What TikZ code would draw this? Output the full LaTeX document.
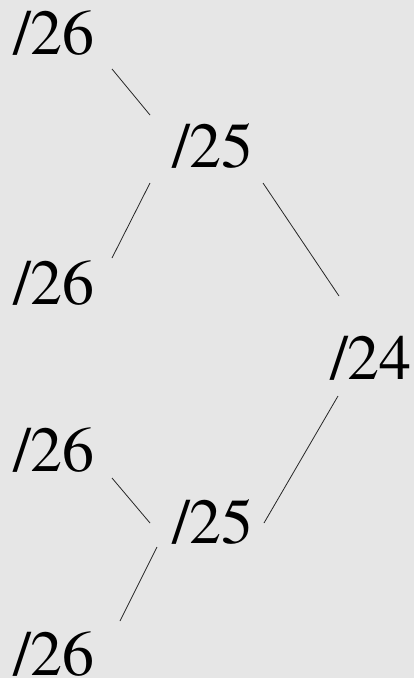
\documentclass[tikz,border=0pt]{standalone}
\usepackage{fontspec}
\newfontfamily\lblfont{TeX Gyre Termes}
\usepackage{xcolor}
\usetikzlibrary{positioning}

\definecolor{bggray}{RGB}{230,230,230}

\begin{document}
\begin{tikzpicture}[
  x=1pt,y=-1pt,
  lbl/.style={inner sep=0pt,anchor=base west,font=\lblfont\fontsize{64}{64}\selectfont},
  edge/.style={line width=0.8pt,draw=black!85}
]
\useasboundingbox (0,0) rectangle (414,678);
\fill[bggray] (0,0) rectangle (414,678);
% labels
\node[lbl] (t1) at (13,54) {/26};
\node[lbl] (m1) at (172,167) {/25};
\node[lbl] (t2) at (13,304) {/26};
\node[lbl] (n24) at (330,379) {/24};
\node[lbl] (t3) at (13,471) {/26};
\node[lbl] (m2) at (172,543) {/25};
\node[lbl] (t4) at (13,675) {/26};
% connectors
\draw[edge] ([shift={(99,15)}]t1.base west) -- ([shift={(-22,-52)}]m1.base west);
\draw[edge] ([shift={(-22,16)}]m1.base west) -- ([shift={(99,-46)}]t2.base west);
\draw[edge] ([shift={(91,16)}]m1.base west) -- ([shift={(9,-83)}]n24.base west);
\draw[edge] ([shift={(8,17)}]n24.base west) -- ([shift={(92,-20)}]m2.base west);
\draw[edge] ([shift={(99,7)}]t3.base west) -- ([shift={(-22,-20)}]m2.base west);
\draw[edge] ([shift={(-15,4)}]m2.base west) -- ([shift={(107,-54)}]t4.base west);
\end{tikzpicture}
\end{document}
